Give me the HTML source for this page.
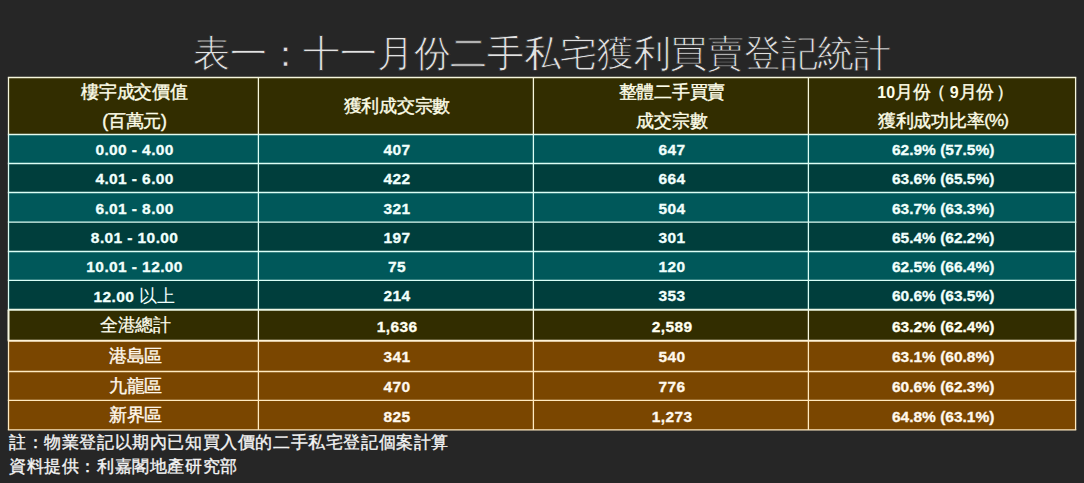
<!DOCTYPE html>
<html lang="zh-Hant"><head><meta charset="utf-8">
<style>
html,body{margin:0;padding:0;background:#262626;width:1084px;height:483px;overflow:hidden;}
body{position:relative;font-family:"Liberation Sans",sans-serif;color:#fff;}
svg{position:absolute;left:0;top:0;}
.title{position:absolute;left:0px;width:1084px;top:29.6px;text-align:center;font-size:37px;font-weight:300;line-height:48px;color:#e2e2e2;white-space:nowrap;letter-spacing:-0.3px;-webkit-text-stroke:0.75px #262626;paint-order:normal;}
.cell{position:absolute;display:flex;flex-direction:column;align-items:center;justify-content:center;text-align:center;white-space:nowrap;}
.hdr{font-size:16px;line-height:29px;font-weight:700;color:#fdfde8;}
.hdr>div{position:relative;top:0.7px;left:1px;}
.h{letter-spacing:-0.3px;font-size:17.7px;font-weight:400;-webkit-text-stroke:0.4px #fdfde8;}
.num{font-size:15.5px;font-weight:700;line-height:20px;color:#f4ffff;-webkit-text-stroke:0.3px #f4ffff;}
.tc{color:#f0fffc;-webkit-text-stroke-color:#f0fffc;}
.oc{color:#fffff0;-webkit-text-stroke-color:#fffff0;}
.bc{color:#fff8ec;-webkit-text-stroke-color:#fff8ec;}
.ls{letter-spacing:0.4px;}
.num>div{position:relative;top:1.4px;left:1.2px;}
.c{font-size:17.7px;font-weight:400;position:relative;top:-0.85px;left:0.8px;letter-spacing:-0.3px;-webkit-text-stroke-width:0.4px;}
.ci{font-size:17.7px;font-weight:400;-webkit-text-stroke-width:0;}
.foot{position:absolute;left:9px;font-size:17px;line-height:24px;color:#f4f4f4;white-space:nowrap;letter-spacing:0.6px;-webkit-text-stroke:0.35px #f4f4f4;}
</style></head><body>
<div class="title">表一：十一月份二手私宅獲利買賣登記統計</div>
<svg width="1084" height="483" viewBox="0 0 1084 483">
<rect x="8.5" y="77.5" width="1067.1" height="57.0" fill="#322d00"/>
<rect x="8.5" y="134.5" width="1067.1" height="29.0" fill="#00585a"/>
<rect x="8.5" y="163.5" width="1067.1" height="29.0" fill="#003e3c"/>
<rect x="8.5" y="192.5" width="1067.1" height="29.7" fill="#00585a"/>
<rect x="8.5" y="222.2" width="1067.1" height="29.3" fill="#003e3c"/>
<rect x="8.5" y="251.5" width="1067.1" height="28.9" fill="#00585a"/>
<rect x="8.5" y="280.4" width="1067.1" height="29.4" fill="#003e3c"/>
<rect x="8.5" y="309.8" width="1067.1" height="30.9" fill="#322d00"/>
<rect x="8.5" y="340.7" width="1067.1" height="30.8" fill="#7a4600"/>
<rect x="8.5" y="371.5" width="1067.1" height="28.9" fill="#7a4600"/>
<rect x="8.5" y="400.4" width="1067.1" height="29.5" fill="#7a4600"/>
<line x1="8.5" x2="8.5" y1="77.5" y2="134.5" stroke="#f6f6dc" stroke-width="1.3"/>
<line x1="258.4" x2="258.4" y1="77.5" y2="134.5" stroke="#f6f6dc" stroke-width="1.3"/>
<line x1="533.4" x2="533.4" y1="77.5" y2="134.5" stroke="#f6f6dc" stroke-width="1.3"/>
<line x1="808.4" x2="808.4" y1="77.5" y2="134.5" stroke="#f6f6dc" stroke-width="1.3"/>
<line x1="1075.6" x2="1075.6" y1="77.5" y2="134.5" stroke="#f6f6dc" stroke-width="1.3"/>
<line x1="8.5" x2="8.5" y1="134.5" y2="163.5" stroke="#dcfff6" stroke-width="1.3"/>
<line x1="258.4" x2="258.4" y1="134.5" y2="163.5" stroke="#dcfff6" stroke-width="1.3"/>
<line x1="533.4" x2="533.4" y1="134.5" y2="163.5" stroke="#dcfff6" stroke-width="1.3"/>
<line x1="808.4" x2="808.4" y1="134.5" y2="163.5" stroke="#dcfff6" stroke-width="1.3"/>
<line x1="1075.6" x2="1075.6" y1="134.5" y2="163.5" stroke="#dcfff6" stroke-width="1.3"/>
<line x1="8.5" x2="8.5" y1="163.5" y2="192.5" stroke="#dcfff6" stroke-width="1.3"/>
<line x1="258.4" x2="258.4" y1="163.5" y2="192.5" stroke="#dcfff6" stroke-width="1.3"/>
<line x1="533.4" x2="533.4" y1="163.5" y2="192.5" stroke="#dcfff6" stroke-width="1.3"/>
<line x1="808.4" x2="808.4" y1="163.5" y2="192.5" stroke="#dcfff6" stroke-width="1.3"/>
<line x1="1075.6" x2="1075.6" y1="163.5" y2="192.5" stroke="#dcfff6" stroke-width="1.3"/>
<line x1="8.5" x2="8.5" y1="192.5" y2="222.2" stroke="#dcfff6" stroke-width="1.3"/>
<line x1="258.4" x2="258.4" y1="192.5" y2="222.2" stroke="#dcfff6" stroke-width="1.3"/>
<line x1="533.4" x2="533.4" y1="192.5" y2="222.2" stroke="#dcfff6" stroke-width="1.3"/>
<line x1="808.4" x2="808.4" y1="192.5" y2="222.2" stroke="#dcfff6" stroke-width="1.3"/>
<line x1="1075.6" x2="1075.6" y1="192.5" y2="222.2" stroke="#dcfff6" stroke-width="1.3"/>
<line x1="8.5" x2="8.5" y1="222.2" y2="251.5" stroke="#dcfff6" stroke-width="1.3"/>
<line x1="258.4" x2="258.4" y1="222.2" y2="251.5" stroke="#dcfff6" stroke-width="1.3"/>
<line x1="533.4" x2="533.4" y1="222.2" y2="251.5" stroke="#dcfff6" stroke-width="1.3"/>
<line x1="808.4" x2="808.4" y1="222.2" y2="251.5" stroke="#dcfff6" stroke-width="1.3"/>
<line x1="1075.6" x2="1075.6" y1="222.2" y2="251.5" stroke="#dcfff6" stroke-width="1.3"/>
<line x1="8.5" x2="8.5" y1="251.5" y2="280.4" stroke="#dcfff6" stroke-width="1.3"/>
<line x1="258.4" x2="258.4" y1="251.5" y2="280.4" stroke="#dcfff6" stroke-width="1.3"/>
<line x1="533.4" x2="533.4" y1="251.5" y2="280.4" stroke="#dcfff6" stroke-width="1.3"/>
<line x1="808.4" x2="808.4" y1="251.5" y2="280.4" stroke="#dcfff6" stroke-width="1.3"/>
<line x1="1075.6" x2="1075.6" y1="251.5" y2="280.4" stroke="#dcfff6" stroke-width="1.3"/>
<line x1="8.5" x2="8.5" y1="280.4" y2="309.8" stroke="#dcfff6" stroke-width="1.3"/>
<line x1="258.4" x2="258.4" y1="280.4" y2="309.8" stroke="#dcfff6" stroke-width="1.3"/>
<line x1="533.4" x2="533.4" y1="280.4" y2="309.8" stroke="#dcfff6" stroke-width="1.3"/>
<line x1="808.4" x2="808.4" y1="280.4" y2="309.8" stroke="#dcfff6" stroke-width="1.3"/>
<line x1="1075.6" x2="1075.6" y1="280.4" y2="309.8" stroke="#dcfff6" stroke-width="1.3"/>
<line x1="8.5" x2="8.5" y1="309.8" y2="340.7" stroke="#f8f8e0" stroke-width="2.0"/>
<line x1="258.4" x2="258.4" y1="309.8" y2="340.7" stroke="#f8f8e0" stroke-width="1.3"/>
<line x1="533.4" x2="533.4" y1="309.8" y2="340.7" stroke="#f8f8e0" stroke-width="1.3"/>
<line x1="808.4" x2="808.4" y1="309.8" y2="340.7" stroke="#f8f8e0" stroke-width="1.3"/>
<line x1="1075.6" x2="1075.6" y1="309.8" y2="340.7" stroke="#f8f8e0" stroke-width="2.0"/>
<line x1="8.5" x2="8.5" y1="340.7" y2="371.5" stroke="#ffeac0" stroke-width="1.3"/>
<line x1="258.4" x2="258.4" y1="340.7" y2="371.5" stroke="#ffeac0" stroke-width="1.3"/>
<line x1="533.4" x2="533.4" y1="340.7" y2="371.5" stroke="#ffeac0" stroke-width="1.3"/>
<line x1="808.4" x2="808.4" y1="340.7" y2="371.5" stroke="#ffeac0" stroke-width="1.3"/>
<line x1="1075.6" x2="1075.6" y1="340.7" y2="371.5" stroke="#ffeac0" stroke-width="1.3"/>
<line x1="8.5" x2="8.5" y1="371.5" y2="400.4" stroke="#ffeac0" stroke-width="1.3"/>
<line x1="258.4" x2="258.4" y1="371.5" y2="400.4" stroke="#ffeac0" stroke-width="1.3"/>
<line x1="533.4" x2="533.4" y1="371.5" y2="400.4" stroke="#ffeac0" stroke-width="1.3"/>
<line x1="808.4" x2="808.4" y1="371.5" y2="400.4" stroke="#ffeac0" stroke-width="1.3"/>
<line x1="1075.6" x2="1075.6" y1="371.5" y2="400.4" stroke="#ffeac0" stroke-width="1.3"/>
<line x1="8.5" x2="8.5" y1="400.4" y2="429.9" stroke="#ffeac0" stroke-width="1.3"/>
<line x1="258.4" x2="258.4" y1="400.4" y2="429.9" stroke="#ffeac0" stroke-width="1.3"/>
<line x1="533.4" x2="533.4" y1="400.4" y2="429.9" stroke="#ffeac0" stroke-width="1.3"/>
<line x1="808.4" x2="808.4" y1="400.4" y2="429.9" stroke="#ffeac0" stroke-width="1.3"/>
<line x1="1075.6" x2="1075.6" y1="400.4" y2="429.9" stroke="#ffeac0" stroke-width="1.3"/>
<line x1="7.85" x2="1076.25" y1="77.5" y2="77.5" stroke="#f6f6dc" stroke-width="1.3"/>
<line x1="7.85" x2="1076.25" y1="134.5" y2="134.5" stroke="#e4fbf0" stroke-width="1.3"/>
<line x1="7.85" x2="1076.25" y1="163.5" y2="163.5" stroke="#dcfff6" stroke-width="1.3"/>
<line x1="7.85" x2="1076.25" y1="192.5" y2="192.5" stroke="#dcfff6" stroke-width="1.3"/>
<line x1="7.85" x2="1076.25" y1="222.2" y2="222.2" stroke="#dcfff6" stroke-width="1.3"/>
<line x1="7.85" x2="1076.25" y1="251.5" y2="251.5" stroke="#dcfff6" stroke-width="1.3"/>
<line x1="7.85" x2="1076.25" y1="280.4" y2="280.4" stroke="#dcfff6" stroke-width="1.3"/>
<line x1="7.85" x2="1076.25" y1="309.8" y2="309.8" stroke="#eef8e6" stroke-width="2.0"/>
<line x1="7.85" x2="1076.25" y1="340.7" y2="340.7" stroke="#fff2d6" stroke-width="2.0"/>
<line x1="7.85" x2="1076.25" y1="371.5" y2="371.5" stroke="#ffeac0" stroke-width="1.3"/>
<line x1="7.85" x2="1076.25" y1="400.4" y2="400.4" stroke="#ffeac0" stroke-width="1.3"/>
<line x1="7.85" x2="1076.25" y1="429.9" y2="429.9" stroke="#ffeac0" stroke-width="1.3"/>
</svg>
<div class="cell hdr" style="left:8.5px;width:249.9px;top:77.5px;height:57.0px"><div><span class="h">樓宇成交價值</span></div><div><span class="h">(百萬元)</span></div></div>
<div class="cell hdr" style="left:258.4px;width:275.0px;top:77.5px;height:57.0px"><div><span class="h">獲利成交宗數</span></div></div>
<div class="cell hdr" style="left:533.4px;width:275.0px;top:77.5px;height:57.0px"><div><span class="h">整體二手買賣</span></div><div><span class="h">成交宗數</span></div></div>
<div class="cell hdr" style="left:808.4px;width:267.2px;top:77.5px;height:57.0px"><div style="margin-left:3px"><b>10</b><span class="h">月份<span style="position:relative;left:-2.5px;letter-spacing:1.2px">（</span></span><b>9</b><span class="h">月份<span style="position:relative;left:2.5px">）</span></span></div><div><span class="h">獲利成功比率</span><span class="h" style="letter-spacing:-0.9px;position:relative;top:-1.2px;font-size:17px">(%)</span></div></div>
<div class="cell num ls tc" style="left:8.5px;width:249.9px;top:134.5px;height:29.0px"><div>0.00 - 4.00</div></div>
<div class="cell num ls tc" style="left:258.4px;width:275.0px;top:134.5px;height:29.0px"><div>407</div></div>
<div class="cell num ls tc" style="left:533.4px;width:275.0px;top:134.5px;height:29.0px"><div>647</div></div>
<div class="cell num tc" style="left:808.4px;width:267.2px;top:134.5px;height:29.0px"><div>62.9% (57.5%)</div></div>
<div class="cell num ls tc" style="left:8.5px;width:249.9px;top:163.5px;height:29.0px"><div>4.01 - 6.00</div></div>
<div class="cell num ls tc" style="left:258.4px;width:275.0px;top:163.5px;height:29.0px"><div>422</div></div>
<div class="cell num ls tc" style="left:533.4px;width:275.0px;top:163.5px;height:29.0px"><div>664</div></div>
<div class="cell num tc" style="left:808.4px;width:267.2px;top:163.5px;height:29.0px"><div>63.6% (65.5%)</div></div>
<div class="cell num ls tc" style="left:8.5px;width:249.9px;top:192.5px;height:29.7px"><div>6.01 - 8.00</div></div>
<div class="cell num ls tc" style="left:258.4px;width:275.0px;top:192.5px;height:29.7px"><div>321</div></div>
<div class="cell num ls tc" style="left:533.4px;width:275.0px;top:192.5px;height:29.7px"><div>504</div></div>
<div class="cell num tc" style="left:808.4px;width:267.2px;top:192.5px;height:29.7px"><div>63.7% (63.3%)</div></div>
<div class="cell num ls tc" style="left:8.5px;width:249.9px;top:222.2px;height:29.3px"><div>8.01 - 10.00</div></div>
<div class="cell num ls tc" style="left:258.4px;width:275.0px;top:222.2px;height:29.3px"><div>197</div></div>
<div class="cell num ls tc" style="left:533.4px;width:275.0px;top:222.2px;height:29.3px"><div>301</div></div>
<div class="cell num tc" style="left:808.4px;width:267.2px;top:222.2px;height:29.3px"><div>65.4% (62.2%)</div></div>
<div class="cell num ls tc" style="left:8.5px;width:249.9px;top:251.5px;height:28.9px"><div>10.01 - 12.00</div></div>
<div class="cell num ls tc" style="left:258.4px;width:275.0px;top:251.5px;height:28.9px"><div>75</div></div>
<div class="cell num ls tc" style="left:533.4px;width:275.0px;top:251.5px;height:28.9px"><div>120</div></div>
<div class="cell num tc" style="left:808.4px;width:267.2px;top:251.5px;height:28.9px"><div>62.5% (66.4%)</div></div>
<div class="cell num ls tc" style="left:8.5px;width:249.9px;top:280.4px;height:29.4px"><div>12.00 <span class="ci">以上</span></div></div>
<div class="cell num ls tc" style="left:258.4px;width:275.0px;top:280.4px;height:29.4px"><div>214</div></div>
<div class="cell num ls tc" style="left:533.4px;width:275.0px;top:280.4px;height:29.4px"><div>353</div></div>
<div class="cell num tc" style="left:808.4px;width:267.2px;top:280.4px;height:29.4px"><div>60.6% (63.5%)</div></div>
<div class="cell num ls oc" style="left:8.5px;width:249.9px;top:309.8px;height:30.9px"><div><span class="c" style="-webkit-text-stroke-width:0.2px">全港總計</span></div></div>
<div class="cell num ls oc" style="left:258.4px;width:275.0px;top:309.8px;height:30.9px"><div>1,636</div></div>
<div class="cell num ls oc" style="left:533.4px;width:275.0px;top:309.8px;height:30.9px"><div>2,589</div></div>
<div class="cell num oc" style="left:808.4px;width:267.2px;top:309.8px;height:30.9px"><div>63.2% (62.4%)</div></div>
<div class="cell num ls bc" style="left:8.5px;width:249.9px;top:340.7px;height:30.8px"><div><span class="c">港島區</span></div></div>
<div class="cell num ls bc" style="left:258.4px;width:275.0px;top:340.7px;height:30.8px"><div>341</div></div>
<div class="cell num ls bc" style="left:533.4px;width:275.0px;top:340.7px;height:30.8px"><div>540</div></div>
<div class="cell num bc" style="left:808.4px;width:267.2px;top:340.7px;height:30.8px"><div>63.1% (60.8%)</div></div>
<div class="cell num ls bc" style="left:8.5px;width:249.9px;top:371.5px;height:28.9px"><div><span class="c">九龍區</span></div></div>
<div class="cell num ls bc" style="left:258.4px;width:275.0px;top:371.5px;height:28.9px"><div>470</div></div>
<div class="cell num ls bc" style="left:533.4px;width:275.0px;top:371.5px;height:28.9px"><div>776</div></div>
<div class="cell num bc" style="left:808.4px;width:267.2px;top:371.5px;height:28.9px"><div>60.6% (62.3%)</div></div>
<div class="cell num ls bc" style="left:8.5px;width:249.9px;top:400.4px;height:29.5px"><div><span class="c">新界區</span></div></div>
<div class="cell num ls bc" style="left:258.4px;width:275.0px;top:400.4px;height:29.5px"><div>825</div></div>
<div class="cell num ls bc" style="left:533.4px;width:275.0px;top:400.4px;height:29.5px"><div>1,273</div></div>
<div class="cell num bc" style="left:808.4px;width:267.2px;top:400.4px;height:29.5px"><div>64.8% (63.1%)</div></div>
<div class="foot" style="top:430.5px">註：物業登記以期內已知買入價的二手私宅登記個案計算</div>
<div class="foot" style="top:454.5px">資料提供：利嘉閣地產研究部</div>
</body></html>
